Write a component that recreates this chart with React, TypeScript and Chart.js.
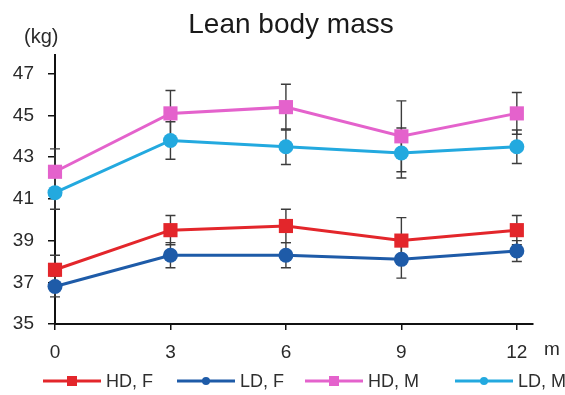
import React, { useEffect, useRef } from "react";
import { Chart, registerables } from "chart.js";

Chart.register(...registerables);

// Months of follow-up
const months = [0, 3, 6, 9, 12];
const yTickValues = [35, 37, 39, 41, 43, 45, 47];
const xTickValues = [0, 3, 6, 9, 12];

// Lean body mass (kg): mean and SD per group
const hdF = [37.6, 39.5, 39.7, 39.0, 39.5];
const hdFsd = [0.7, 0.7, 0.8, 1.1, 0.7];
const ldF = [36.8, 38.3, 38.3, 38.1, 38.5];
const ldFsd = [0.5, 0.6, 0.6, 0.9, 0.5];
const hdM = [42.3, 45.1, 45.4, 44.0, 45.1];
const hdMsd = [1.1, 1.1, 1.1, 1.7, 1.0];
const ldM = [41.3, 43.8, 43.5, 43.2, 43.5];
const ldMsd = [0.8, 0.9, 0.85, 1.2, 0.8];

const seriesNames = ["HD, F", "LD, F", "HD, M", "LD, M"];
const seriesColors = ["#e3262b", "#1e5ba8", "#e462cc", "#23a9df"];
const seriesShapes = ["rect", "circle", "rect", "circle"];
const seriesMeans = [hdF, ldF, hdM, ldM];
const seriesSds = [hdFsd, ldFsd, hdMsd, ldMsd];

const FONT = "'Liberation Sans', Arial, sans-serif";

const errorBars = {
  id: "errorBars",
  beforeDatasetsDraw(chart: any) {
    const { ctx } = chart;
    const xs = chart.scales.x;
    const ys = chart.scales.y;
    ctx.save();
    ctx.strokeStyle = "#3c3c3c";
    ctx.lineWidth = 1.4;
    seriesMeans.forEach((means, s) => {
      means.forEach((m, i) => {
        const sd = seriesSds[s][i];
        const x = xs.getPixelForValue(months[i]);
        const top = ys.getPixelForValue(m + sd);
        const bot = ys.getPixelForValue(m - sd);
        ctx.beginPath();
        ctx.moveTo(x, top);
        ctx.lineTo(x, bot);
        ctx.moveTo(x - 5, top);
        ctx.lineTo(x + 5, top);
        ctx.moveTo(x - 5, bot);
        ctx.lineTo(x + 5, bot);
        ctx.stroke();
      });
    });
    ctx.restore();
  },
};

const decorations = {
  id: "decorations",
  afterDraw(chart: any) {
    const { ctx, chartArea } = chart;
    ctx.save();
    // Title
    ctx.fillStyle = "#1a1a1a";
    ctx.font = `28px ${FONT}`;
    ctx.textAlign = "center";
    ctx.textBaseline = "alphabetic";
    ctx.fillText("Lean body mass", 291, 33);
    // Unit label
    ctx.font = `20px ${FONT}`;
    ctx.fillStyle = "#2a2a2a";
    ctx.textAlign = "left";
    ctx.textBaseline = "middle";
    ctx.fillText("(kg)", 24, 37);
    // Month unit
    ctx.font = `19px ${FONT}`;
    ctx.fillText("m", chartArea.right + 11, 350);

    // Legend: line with a marker in its middle, then the label
    const starts = [43, 177, 305, 455];
    const ly = 381;
    const lineLen = 58;
    ctx.font = `18px ${FONT}`;
    seriesNames.forEach((name, i) => {
      const x0 = starts[i];
      const c = seriesColors[i];
      ctx.strokeStyle = c;
      ctx.lineWidth = 3;
      ctx.beginPath();
      ctx.moveTo(x0, ly);
      ctx.lineTo(x0 + lineLen, ly);
      ctx.stroke();
      ctx.fillStyle = c;
      const cx = x0 + lineLen / 2;
      if (seriesShapes[i] === "rect") {
        ctx.fillRect(cx - 5, ly - 5, 10, 10);
      } else {
        ctx.beginPath();
        ctx.arc(cx, ly, 4, 0, Math.PI * 2);
        ctx.fill();
      }
      ctx.fillStyle = "#2e2e2e";
      ctx.textAlign = "left";
      ctx.textBaseline = "middle";
      ctx.fillText(name, x0 + lineLen + 5, ly + 1);
    });
    ctx.restore();
  },
};

export default function App() {
  const ref = useRef<HTMLCanvasElement | null>(null);

  useEffect(() => {
    document.body.style.margin = "0";
    const canvas = ref.current;
    if (!canvas) return;
    const chart = new Chart(canvas, {
      type: "line",
      data: {
        datasets: seriesNames.map((name, s) => ({
          label: name,
          data: months.map((m, i) => ({ x: m, y: seriesMeans[s][i] })),
          borderColor: seriesColors[s],
          backgroundColor: seriesColors[s],
          borderWidth: 3,
          pointStyle: seriesShapes[s],
          pointRadius: seriesShapes[s] === "rect" ? 10 : 7.5,
          pointBorderWidth: 0,
          tension: 0,
          clip: false,
        })),
      },
      options: {
        responsive: false,
        animation: false,
        layout: { padding: { top: 55, right: 32, left: 0, bottom: 0 } },
        plugins: {
          legend: { display: false },
          title: { display: false },
          tooltip: { enabled: false },
        },
        scales: {
          x: {
            type: "linear",
            min: 0,
            max: 12.42,
            afterFit: (s: any) => {
              s.height = 71;
            },
            afterBuildTicks: (axis: any) => {
              axis.ticks = xTickValues.map((v) => ({ value: v }));
            },
            border: { display: true, color: "#111", width: 2 },
            grid: {
              drawOnChartArea: false,
              drawTicks: true,
              tickLength: 6,
              color: "#111",
              lineWidth: 1.5,
            },
            ticks: {
              padding: 11,
              color: "#2a2a2a",
              font: { family: FONT, size: 19 },
              maxRotation: 0,
            },
          },
          y: {
            type: "linear",
            min: 35,
            max: 47.9,
            afterFit: (s: any) => {
              s.width = 55;
            },
            afterBuildTicks: (axis: any) => {
              axis.ticks = yTickValues.map((v) => ({ value: v }));
            },
            border: { display: true, color: "#111", width: 2 },
            grid: {
              drawOnChartArea: false,
              drawTicks: true,
              tickLength: 7,
              color: "#111",
              lineWidth: 1.5,
            },
            ticks: {
              padding: 14,
              color: "#2a2a2a",
              font: { family: FONT, size: 19 },
            },
          },
        },
      },
      plugins: [errorBars, decorations],
    });
    return () => chart.destroy();
  }, []);

  return (
    <div style={{ width: 565, height: 395, background: "#fff" }}>
      <canvas ref={ref} width={565} height={395} />
    </div>
  );
}
